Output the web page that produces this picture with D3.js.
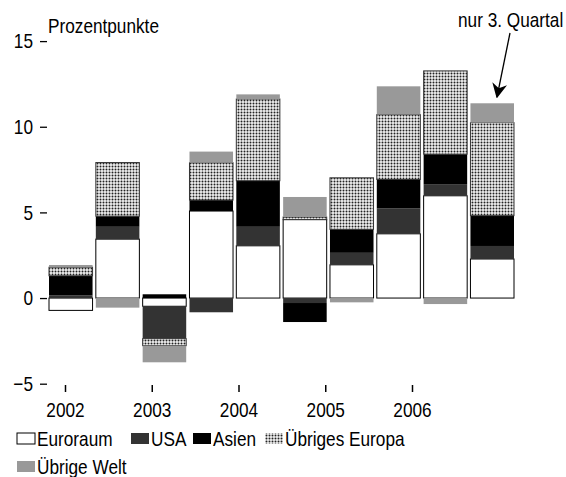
<!DOCTYPE html>
<html><head><meta charset="utf-8">
<script src="https://d3js.org/d3.v7.min.js"></script>
<style>
  body { margin: 0; background: #fff; }
  text { font-family: "Liberation Sans", Arial, sans-serif; font-size: 21px; fill: #000; }
</style>
</head>
<body>
<script>
"use strict";
// half-year periods, 2002 to 2006 (last one: only Q3)
const periods = ["2002 H1", "2002 H2", "2003 H1", "2003 H2", "2004 H1",
                 "2004 H2", "2005 H1", "2005 H2", "2006 H1", "2006 Q3"];
const euroraum = [-0.72, 3.44, -0.48, 5.08, 3.05, 4.58, 1.94, 3.75, 5.97, 2.28];
const usa      = [0.15, 0.72, -1.89, -0.83, 1.11, -0.29, 0.70, 1.48, 0.68, 0.76];
const asien    = [1.15, 0.62, 0.22, 0.64, 2.69, -1.11, 1.37, 1.69, 1.75, 1.77];
const europa   = [0.50, 3.13, -0.41, 2.18, 4.77, 0.15, 3.01, 3.79, 4.86, 5.43];
const welt     = [0.13, -0.56, -0.97, 0.65, 0.27, 1.17, -0.25, 1.65, -0.35, 1.13];
const years = [2002, 2003, 2004, 2005, 2006];
const yTicks = [-5, 0, 5, 10, 15];

const keys = ["Euroraum", "USA", "Asien", "Übriges Europa", "Übrige Welt"];
const series = [euroraum, usa, asien, europa, welt];
const fills = ["#fff", "#333", "#000", "url(#dots)", "#999"];
const strokes = ["#000", "none", "none", "#333", "none"];

const width = 566, height = 477;

// squeeze text horizontally around its anchor (Arial Narrow look)
function narrow(sel) {
  sel.each(function () {
    const x0 = +(this.getAttribute("x") || 0);
    d3.select(this).attr("transform", `translate(${x0},0) scale(0.82,1) translate(${-x0},0)`);
  });
}

const rows = periods.map((p, i) => {
  const r = { period: p };
  keys.forEach((k, j) => r[k] = series[j][i]);
  return r;
});

const stacked = d3.stack().keys(keys).offset(d3.stackOffsetDiverging)(rows);

const x = d3.scaleBand().domain(periods).range([49, 514]).paddingInner(0.07).paddingOuter(0);
const y = d3.scaleLinear().domain([-5, 15]).range([383.7, 41.1]);
const xYear = d3.scaleLinear().domain([2002, 2006]).range([65, 412]);

const svg = d3.select("body").append("svg")
    .attr("width", width).attr("height", height);

const defs = svg.append("defs");
const pat = defs.append("pattern").attr("id", "dots")
    .attr("width", 3).attr("height", 3).attr("patternUnits", "userSpaceOnUse");
pat.append("rect").attr("width", 3).attr("height", 3).attr("fill", "#f2f2f2");
pat.append("circle").attr("cx", 1.5).attr("cy", 1.5).attr("r", 1).attr("fill", "#222");

defs.append("marker").attr("id", "arrow")
    .attr("viewBox", "0 0 10 10").attr("refX", 9).attr("refY", 5)
    .attr("markerWidth", 15).attr("markerHeight", 15).attr("markerUnits", "userSpaceOnUse")
    .attr("orient", "auto")
  .append("path").attr("d", "M0,0 L10,5 L0,10 L3,5 Z").attr("fill", "#000");

// bars
svg.append("g").selectAll("g")
  .data(stacked)
  .join("g")
    .attr("fill", (d, i) => fills[i])
    .attr("stroke", (d, i) => strokes[i])
    .attr("stroke-width", 1)
  .selectAll("rect")
  .data(d => d)
  .join("rect")
    .attr("x", d => x(d.data.period))
    .attr("y", d => y(Math.max(d[0], d[1])))
    .attr("width", x.bandwidth())
    .attr("height", d => Math.abs(y(d[0]) - y(d[1])));

// y axis: ticks only
const yAxis = svg.append("g").attr("transform", "translate(47,0)")
    .call(d3.axisLeft(y).tickValues(yTicks).tickSize(7).tickPadding(7));
yAxis.select(".domain").remove();
yAxis.selectAll("line").attr("stroke-width", 1.3);
yAxis.selectAll("text").style("font-size", "21px").style("font-family", null).call(narrow);

// x axis: year ticks
const xAxis = svg.append("g").attr("transform", "translate(0,385)")
    .call(d3.axisBottom(xYear).tickValues(years).tickFormat(d3.format("d")).tickSize(7).tickPadding(10));
xAxis.select(".domain").remove();
xAxis.selectAll("line").attr("stroke-width", 1.5);
xAxis.selectAll("text").style("font-size", "21px").style("font-family", null).call(narrow);

svg.append("text").attr("x", 48).attr("y", 33).text("Prozentpunkte").call(narrow);

// annotation
svg.append("text").attr("x", 458).attr("y", 27).text("nur 3. Quartal").call(narrow);
svg.append("line")
    .attr("x1", 510).attr("y1", 33).attr("x2", 497).attr("y2", 97)
    .attr("stroke", "#000").attr("stroke-width", 1.3)
    .attr("marker-end", "url(#arrow)");

// legend
const legendPos = [[17, 437], [131, 437], [193, 437], [265, 437], [17, 465]];
const lg = svg.append("g").selectAll("g")
  .data(keys)
  .join("g")
    .attr("transform", (d, i) => `translate(${legendPos[i][0]},${legendPos[i][1]})`);
lg.append("rect")
    .attr("x", 0).attr("y", -4).attr("width", 18).attr("height", 11)
    .attr("fill", (d, i) => fills[i])
    .attr("stroke", (d, i) => i === 0 ? "#000" : "none");
lg.append("text").attr("x", 20).attr("y", 9).text(d => d).call(narrow);
</script>
</body>
</html>
